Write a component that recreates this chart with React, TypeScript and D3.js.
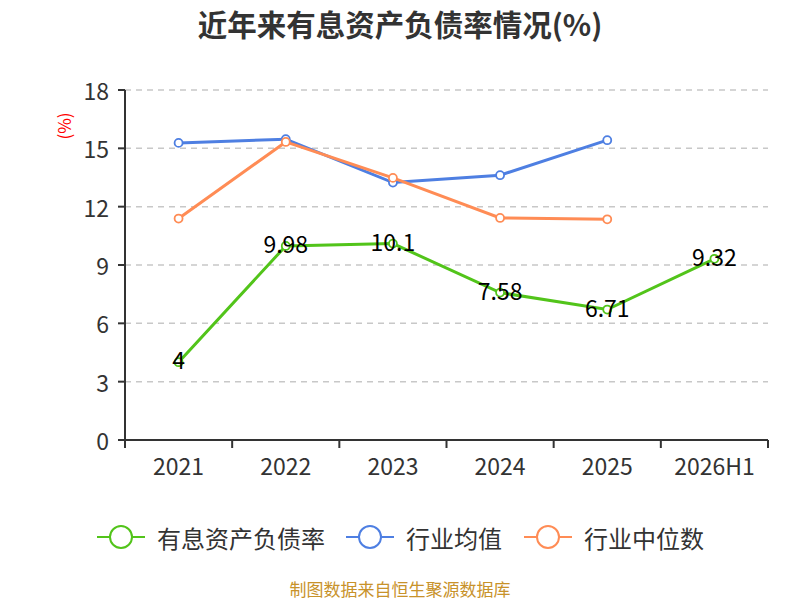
import * as d3 from "d3";

const W = 800;
const H = 600;
const M = { top: 90, right: 32, bottom: 160, left: 125 };

const categories = ["2021", "2022", "2023", "2024", "2025", "2026H1"];
const debtRatio = [4, 9.98, 10.1, 7.58, 6.71, 9.32];
const industryMean = [15.28, 15.47, 13.24, 13.62, 15.42];
const industryMedian = [11.39, 15.33, 13.48, 11.42, 11.35];
const yTicks = [0, 3, 6, 9, 12, 15, 18];

const series = [
  { name: "有息资产负债率", color: "#52c41a", values: debtRatio, labels: true },
  { name: "行业均值", color: "#4e7fe2", values: industryMean, labels: false },
  { name: "行业中位数", color: "#ff8c55", values: industryMedian, labels: false },
];
const legendX = [97, 346, 524];

const FONT = "'Microsoft YaHei', 'Noto Sans CJK SC', 'Noto Sans', sans-serif";

export default function App() {
  const innerW = W - M.left - M.right;
  const innerH = H - M.top - M.bottom;

  const x = d3.scaleBand().domain(categories).range([0, innerW]);
  const y = d3.scaleLinear().domain([0, 18]).range([innerH, 0]);
  const cx = (i: number) => (x(categories[i]) ?? 0) + x.bandwidth() / 2;

  const line = d3
    .line<number>()
    .x((_, i) => cx(i))
    .y((d) => y(d));

  const bounds = [...categories.map((c) => x(c) ?? 0), innerW];

  return (
    <svg
      width={W}
      height={H}
      style={{ position: "fixed", top: 0, left: 0, background: "#fff" }}
      fontFamily={FONT}
    >
      <text x={W / 2} y={23} textAnchor="middle" dominantBaseline="central" fontSize={29.5} fontWeight="bold" fill="#333">
        近年来有息资产负债率情况(%)
      </text>

      <text
        transform={`translate(63,126) rotate(-90)`}
        textAnchor="middle"
        dominantBaseline="central"
        fontSize={17}
        fill="#ff0000"
      >
        (%)
      </text>

      <g transform={`translate(${M.left},${M.top})`}>
        {yTicks.map((t) => (
          <g key={t}>
            {t > 0 && (
              <line
                x1={0}
                x2={innerW}
                y1={y(t)}
                y2={y(t)}
                stroke="#c8c8c8"
                strokeWidth={1.5}
                strokeDasharray="6,5"
              />
            )}
            <line x1={-7} x2={0} y1={y(t)} y2={y(t)} stroke="#333" strokeWidth={2} />
            <text
              x={-16}
              y={y(t)}
              textAnchor="end"
              dominantBaseline="central"
              fontSize={23}
              fill="#333"
            >
              {t}
            </text>
          </g>
        ))}
        <line x1={0} x2={0} y1={0} y2={innerH + 7} stroke="#333" strokeWidth={2} />
        <line x1={0} x2={innerW} y1={innerH} y2={innerH} stroke="#333" strokeWidth={2} />
        {bounds.map((b, i) => (
          <line key={i} x1={b} x2={b} y1={innerH} y2={innerH + 8} stroke="#333" strokeWidth={2} />
        ))}
        {categories.map((c, i) => (
          <text
            key={c}
            x={cx(i)}
            y={innerH + 25}
            textAnchor="middle"
            dominantBaseline="central"
            fontSize={23}
            fill="#333"
          >
            {c}
          </text>
        ))}

        {series.map((s) => (
          <g key={s.name}>
            <path d={line(s.values) ?? ""} fill="none" stroke={s.color} strokeWidth={3} />
            {s.values.map((v, i) => (
              <circle
                key={i}
                cx={cx(i)}
                cy={y(v)}
                r={4}
                fill="#fff"
                stroke={s.color}
                strokeWidth={1.8}
              />
            ))}
          </g>
        ))}
        {series
          .filter((s) => s.labels)
          .map((s) =>
            s.values.map((v, i) => (
              <text
                key={i}
                x={cx(i)}
                y={y(v) - 3}
                textAnchor="middle"
                dominantBaseline="central"
                fontSize={23}
                fill="#000"
              >
                {v}
              </text>
            ))
          )}
      </g>

      {series.map((s, i) => (
        <g key={s.name} transform={`translate(${legendX[i]},537)`}>
          <line x1={0} x2={48} y1={0} y2={0} stroke={s.color} strokeWidth={2} />
          <circle cx={24} cy={0} r={11} fill="#fff" stroke={s.color} strokeWidth={2} />
          <text x={60} y={0} dominantBaseline="central" fontSize={24} fill="#333">
            {s.name}
          </text>
        </g>
      ))}

      <text x={W / 2} y={588} textAnchor="middle" dominantBaseline="central" fontSize={17} fill="#c8922a">
        制图数据来自恒生聚源数据库
      </text>
    </svg>
  );
}
